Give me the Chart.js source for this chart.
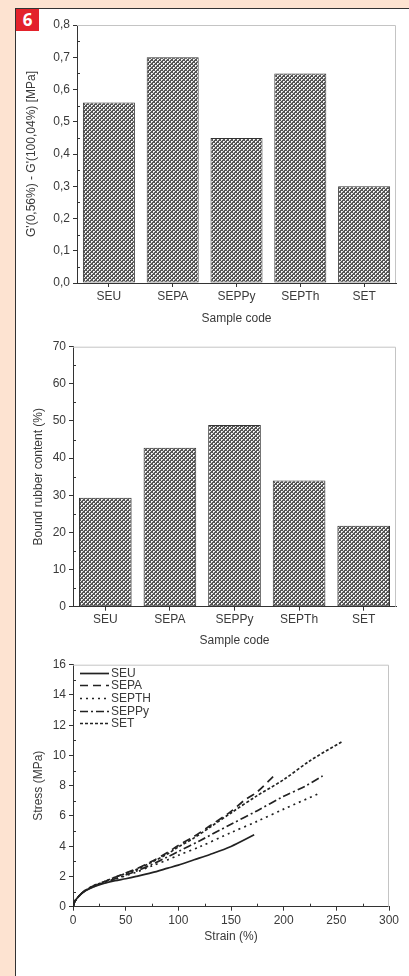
<!DOCTYPE html>
<html>
<head>
<meta charset="utf-8">
<script src="https://cdn.jsdelivr.net/npm/chart.js@4.4.1/dist/chart.umd.min.js"></script>
<style>
  body { margin: 0; background: #fde3d1; width: 409px; height: 976px; overflow: hidden; position: relative; }
  #panel { position: absolute; left: 15px; top: 8px; width: 394px; height: 968px; background: #fff;
           border-left: 1px solid #333; border-top: 1px solid #333; box-sizing: border-box; }
  #badge { position: absolute; left: 16px; top: 9px; width: 23px; height: 22px; background: #e3222b; color: #fff;
           font: bold 17px "Open Sans", "DejaVu Sans", sans-serif; text-align: center; line-height: 22px; }
  canvas { position: absolute; left: 16px; }
</style>
</head>
<body>
<div id="panel"></div>
<div id="badge">6</div>
<canvas id="chart-modulus" width="393" height="325" style="top:10px"></canvas>
<canvas id="chart-bound" width="393" height="320" style="top:334px"></canvas>
<canvas id="chart-stress" width="393" height="326" style="top:650px"></canvas>
<script>
// ---- data ----
var sampleCodes = ['SEU', 'SEPA', 'SEPPy', 'SEPTh', 'SET'];
var modulusDrop = [0.56, 0.70, 0.45, 0.65, 0.30];
var boundRubber = [29.3, 42.8, 48.9, 34.0, 21.8];

var strainSEU = [0, 2, 5, 10, 15, 20, 30, 40, 50, 60, 75, 90, 100, 115, 130, 150, 172];
var stressSEU = [0, 0.38, 0.65, 0.97, 1.17, 1.33, 1.55, 1.72, 1.85, 2.0, 2.25, 2.55, 2.75, 3.1, 3.45, 3.98, 4.75];

var strainSEPA = [0, 2, 5, 10, 15, 20, 30, 40, 50, 60, 75, 90, 100, 115, 130, 150, 162, 175, 190];
var stressSEPA = [0, 0.38, 0.66, 1.0, 1.22, 1.4, 1.67, 1.95, 2.22, 2.5, 3.0, 3.6, 4.05, 4.65, 5.35, 6.3, 7.0, 7.6, 8.6];

var strainSEPTH = [0, 2, 5, 10, 15, 20, 30, 40, 50, 60, 75, 90, 100, 120, 150, 175, 200, 234];
var stressSEPTH = [0, 0.38, 0.65, 0.98, 1.18, 1.34, 1.58, 1.8, 2.05, 2.28, 2.7, 3.1, 3.4, 3.95, 4.9, 5.65, 6.45, 7.5];

var strainSEPPy = [0, 2, 5, 10, 15, 20, 30, 40, 50, 60, 75, 90, 100, 120, 150, 175, 200, 220, 237];
var stressSEPPy = [0, 0.38, 0.65, 0.98, 1.19, 1.36, 1.6, 1.85, 2.1, 2.35, 2.8, 3.3, 3.65, 4.35, 5.45, 6.35, 7.3, 7.95, 8.65];

var strainSET = [0, 2, 5, 10, 15, 20, 30, 40, 50, 60, 75, 90, 100, 115, 130, 150, 175, 200, 225, 255];
var stressSET = [0, 0.38, 0.66, 1.0, 1.22, 1.4, 1.67, 1.95, 2.2, 2.45, 2.95, 3.5, 3.95, 4.55, 5.25, 6.2, 7.35, 8.4, 9.65, 10.9];

var modulusTicks = [0, 0.1, 0.2, 0.3, 0.4, 0.5, 0.6, 0.7, 0.8];
var boundTicks = [0, 10, 20, 30, 40, 50, 60, 70];
var stressTicks = [0, 2, 4, 6, 8, 10, 12, 14, 16];
var strainTicks = [0, 50, 100, 150, 200, 250, 300];

// ---- look ----
var FONT = { family: '"Liberation Sans", Arial, sans-serif', size: 12 };
var INK = '#3a3a3a';
var AXIS = '#333';

// crosshatch: dark lattice with white holes on a diagonal grid
function hatchPattern() {
    var c = document.createElement('canvas');
    c.width = 4; c.height = 4;
    var g = c.getContext('2d');
    g.fillStyle = '#555555';
    g.fillRect(0, 0, 4, 4);
    g.fillStyle = '#e4e4e4';
    [[2, 1], [1, 2], [0, 3], [3, 0]].forEach(function (p) { g.fillRect(p[0], p[1], 1, 1); });
    g.fillStyle = '#ffffff';
    g.fillRect(1, 1, 1, 1);
    g.fillRect(3, 3, 1, 1);
    return document.createElement('canvas').getContext('2d').createPattern(c, 'repeat');
}

// light frame on top/right, plus small inner minor ticks
var framePlugin = {
    id: 'frame',
    beforeDatasetsDraw: function (chart) {
        var a = chart.chartArea, ctx = chart.ctx;
        ctx.save();
        ctx.strokeStyle = '#c4c4c4';
        ctx.lineWidth = 1;
        ctx.beginPath();
        ctx.moveTo(a.left, a.top + 0.5);
        ctx.lineTo(a.right - 0.5, a.top + 0.5);
        ctx.lineTo(a.right - 0.5, a.bottom);
        ctx.stroke();
        ctx.restore();
    },
    afterDraw: function (chart) {
        var a = chart.chartArea, ctx = chart.ctx;
        ctx.save();
        ctx.strokeStyle = AXIS;
        ctx.lineWidth = 1;
        ['x', 'y'].forEach(function (id) {
            var s = chart.scales[id];
            if (s.type !== 'linear') return;
            var t = s.ticks;
            for (var i = 0; i < t.length - 1; i++) {
                var p = Math.round(s.getPixelForValue((t[i].value + t[i + 1].value) / 2)) + 0.5;
                ctx.beginPath();
                if (id === 'y') { ctx.moveTo(a.left, p); ctx.lineTo(a.left + 3, p); }
                else { ctx.moveTo(p, a.bottom); ctx.lineTo(p, a.bottom - 3); }
                ctx.stroke();
            }
        });
        ctx.restore();
    }
};

// legend drawn inside the plot, top-left
var innerLegend = {
    id: 'innerLegend',
    afterDatasetsDraw: function (chart) {
        var a = chart.chartArea, ctx = chart.ctx;
        ctx.save();
        ctx.font = '12px ' + FONT.family;
        ctx.textBaseline = 'middle';
        chart.data.datasets.forEach(function (ds, i) {
            var y = Math.round(a.top + 8 + i * 12.6) + 0.5;
            ctx.strokeStyle = '#222';
            ctx.lineWidth = 1.7;
            ctx.setLineDash(ds.borderDash || []);
            ctx.beginPath();
            ctx.moveTo(a.left + 7, y);
            ctx.lineTo(a.left + 36, y);
            ctx.stroke();
            ctx.setLineDash([]);
            ctx.fillStyle = INK;
            ctx.fillText(ds.label, a.left + 38, y);
        });
        ctx.restore();
    }
};

function fixed(w) { return function (s) { s.width = w; }; }
function fixedH(h) { return function (s) { s.height = h; }; }

function yAxis(min, max, step, title, width, fmt) {
    return {
        type: 'linear', min: min, max: max,
        afterFit: fixed(width),
        ticks: { stepSize: step, color: INK, font: FONT, padding: 3, callback: fmt },
        grid: { drawOnChartArea: false, drawTicks: true, tickLength: 4, color: AXIS },
        border: { display: true, color: AXIS, width: 1 },
        title: { display: true, text: title, color: INK, font: FONT }
    };
}

function barChart(id, values, yMin, yMax, step, yTitle, fmt, pad, yWidth, xHeight) {
    new Chart(document.getElementById(id).getContext('2d'), {
        type: 'bar',
        data: {
            labels: sampleCodes,
            datasets: [{
                data: values,
                backgroundColor: hatchPattern(),
                borderColor: '#333',
                borderWidth: 1,
                borderSkipped: false,
                barPercentage: 0.815,
                categoryPercentage: 1
            }]
        },
        options: {
            responsive: false,
            animation: false,
            layout: { padding: pad },
            plugins: { legend: { display: false }, tooltip: { enabled: false } },
            scales: {
                x: {
                    afterFit: fixedH(xHeight),
                    ticks: { color: INK, font: FONT, padding: 2, maxRotation: 0, autoSkip: false },
                    grid: { drawOnChartArea: false, drawTicks: true, tickLength: 4, color: AXIS, offset: false },
                    border: { display: true, color: AXIS, width: 1 },
                    title: { display: true, text: 'Sample code', color: INK, font: FONT }
                },
                y: yAxis(yMin, yMax, step, yTitle, yWidth, fmt)
            }
        },
        plugins: [framePlugin]
    });
}

function comma(v) { return v.toFixed(1).replace('.', ','); }

barChart('chart-modulus', modulusDrop, modulusTicks[0], modulusTicks[modulusTicks.length - 1], 0.1,
    "G'(0,56%) - G'(100,04%) [MPa]", comma,
    { left: 4.8, top: 15, right: 13, bottom: 5 }, 56.2, 47);

barChart('chart-bound', boundRubber, boundTicks[0], boundTicks[boundTicks.length - 1], 10,
    'Bound rubber content (%)', function (v) { return v; },
    { left: 11.1, top: 12.7, right: 13, bottom: 1.8 }, 45.9, 45.5);

// ---- stress-strain curves ----
function pts(xs, ys) { return xs.map(function (x, i) { return { x: x, y: ys[i] }; }); }
function curve(label, xs, ys, dash) {
    return { label: label, data: pts(xs, ys), borderDash: dash, borderColor: '#222', borderWidth: 1.7,
             showLine: true, pointRadius: 0, tension: 0.3, fill: false };
}

new Chart(document.getElementById('chart-stress').getContext('2d'), {
    type: 'scatter',
    data: {
        datasets: [
            curve('SEU', strainSEU, stressSEU, []),
            curve('SEPA', strainSEPA, stressSEPA, [8, 5]),
            curve('SEPTH', strainSEPTH, stressSEPTH, [2, 4]),
            curve('SEPPy', strainSEPPy, stressSEPPy, [8, 3, 2, 3]),
            curve('SET', strainSET, stressSET, [3, 2])
        ]
    },
    options: {
        responsive: false,
        animation: false,
        layout: { padding: { left: 11.1, top: 14.7, right: 20, bottom: 27.8 } },
        plugins: { legend: { display: false }, tooltip: { enabled: false } },
        scales: {
            x: {
                type: 'linear', min: strainTicks[0], max: strainTicks[strainTicks.length - 1],
                afterFit: fixedH(41.5),
                ticks: { stepSize: 50, color: INK, font: FONT, padding: 3, maxRotation: 0 },
                grid: { drawOnChartArea: false, drawTicks: true, tickLength: 4, color: AXIS },
                border: { display: true, color: AXIS, width: 1 },
                title: { display: true, text: 'Strain (%)', color: INK, font: FONT }
            },
            y: yAxis(stressTicks[0], stressTicks[stressTicks.length - 1], 2, 'Stress (MPa)', 45.9,
                function (v) { return v; })
        }
    },
    plugins: [framePlugin, innerLegend]
});
</script>
</body>
</html>
